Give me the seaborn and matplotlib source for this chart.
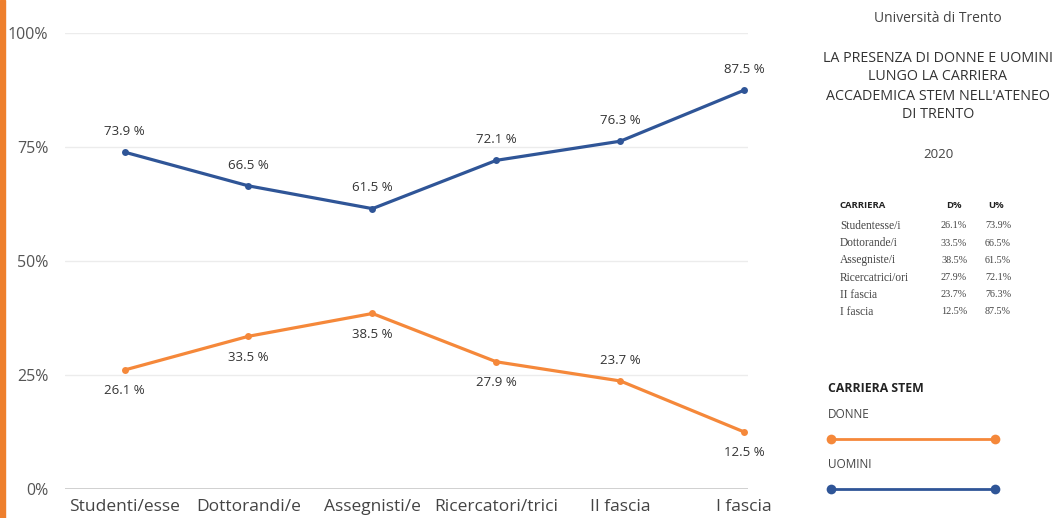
import matplotlib
matplotlib.use("Agg")
import matplotlib.pyplot as plt
from matplotlib.lines import Line2D
from matplotlib.patches import Rectangle
import seaborn as sns
import pandas as pd

# ---- data ----
categories = ["Studenti/esse", "Dottorandi/e", "Assegnisti/e", "Ricercatori/trici", "II fascia", "I fascia"]
donne = [26.1, 33.5, 38.5, 27.9, 23.7, 12.5]
uomini = [73.9, 66.5, 61.5, 72.1, 76.3, 87.5]
yticks = [0, 25, 50, 75, 100]
ytick_labels = ["0%", "25%", "50%", "75%", "100%"]
table_rows = ["Studentesse/i", "Dottorande/i", "Assegniste/i", "Ricercatrici/ori", "II fascia", "I fascia"]
table_d = ["26.1%", "33.5%", "38.5%", "27.9%", "23.7%", "12.5%"]
table_u = ["73.9%", "66.5%", "61.5%", "72.1%", "76.3%", "87.5%"]
# label placement: +1 above, -1 below
donne_pos = [-1, -1, -1, -1, 1, -1]
uomini_pos = [1, 1, 1, 1, 1, 1]

ORANGE = "#f5883a"
BLUE = "#2f5597"
GREY_TXT = "#555555"

sns.set_style("white")
plt.rcParams["font.family"] = ["Open Sans", "DejaVu Sans"]

df = pd.DataFrame({
    "idx": list(range(len(categories))) * 2,
    "val": donne + uomini,
    "serie": ["DONNE"] * len(donne) + ["UOMINI"] * len(uomini),
})

fig = plt.figure(figsize=(10.54, 5.18), dpi=100)
ax = fig.add_axes([0.0617, 0.056, 0.648, 0.880])

sns.lineplot(data=df, x="idx", y="val", hue="serie", palette={"DONNE": ORANGE, "UOMINI": BLUE},
             marker="o", markersize=5, markeredgewidth=0, linewidth=2.3, legend=False, ax=ax,
             zorder=3)

ax.set_xlim(-0.48, 5.03)
ax.set_ylim(0, 100)
ax.set_yticks(yticks)
ax.set_yticklabels(ytick_labels, color=GREY_TXT, fontsize=11.5)
ax.set_xticks(range(len(categories)))
ax.set_xticklabels(categories, color="#444444", fontsize=12.5)
ax.tick_params(axis="both", length=0)
ax.tick_params(axis="y", pad=12)
ax.tick_params(axis="x", pad=7)
ax.set_xlabel("")
ax.set_ylabel("")
for s in ["top", "right", "left", "bottom"]:
    ax.spines[s].set_visible(False)
for y in yticks[1:]:
    ax.axhline(y, color="#ececec", linewidth=1, zorder=1)
ax.axhline(0, color="#c8c8c8", linewidth=1.2, zorder=1)

for i, (d, p) in enumerate(zip(donne, donne_pos)):
    ax.annotate(f"{d} %", (i, d), xytext=(0, 15 * p), textcoords="offset points",
                ha="center", va="center", fontsize=9.5, color="#333333")
for i, (u, p) in enumerate(zip(uomini, uomini_pos)):
    ax.annotate(f"{u} %", (i, u), xytext=(0, 15 * p), textcoords="offset points",
                ha="center", va="center", fontsize=9.5, color="#333333")

# left orange bar
fig.patches.append(Rectangle((0, 0), 5 / 1054, 1, transform=fig.transFigure, color="#ee7f2d", zorder=0))

W, H = 1054, 518
def ft(x, y, s, **kw):
    fig.text(x / W, 1 - y / H, s, **kw)

ft(938, 18, "Università di Trento", ha="center", va="center", fontsize=10, color="#444444")
for k, line in enumerate(["LA PRESENZA DI DONNE E UOMINI", "LUNGO LA CARRIERA",
                          "ACCADEMICA STEM NELL'ATENEO", "DI TRENTO"]):
    ft(938, 58 + k * 19, line, ha="center", va="center", fontsize=10.3, color="#333333")
ft(938, 155, "2020", ha="center", va="center", fontsize=9.5, color="#444444")

ft(840, 205, "CARRIERA", ha="left", va="center", fontsize=6.8, fontweight="bold", color="#222222")
ft(954, 205, "D%", ha="center", va="center", fontsize=6.8, fontweight="bold", color="#222222")
ft(996, 205, "U%", ha="center", va="center", fontsize=6.8, fontweight="bold", color="#222222")
serif = ["Liberation Serif", "DejaVu Serif"]
for k, (r, d, u) in enumerate(zip(table_rows, table_d, table_u)):
    yy = 226 + k * 17.2
    ft(840, yy, r, ha="left", va="center", fontsize=8.3, color="#444444", family=serif)
    ft(954, yy, d, ha="center", va="center", fontsize=7.3, color="#444444", family=serif)
    ft(998, yy, u, ha="center", va="center", fontsize=7.3, color="#444444", family=serif)

ft(828, 388, "CARRIERA STEM", ha="left", va="center", fontsize=8.8, fontweight="bold", color="#222222")
ft(828, 415, "DONNE", ha="left", va="center", fontsize=8.5, color="#444444")
ft(828, 465, "UOMINI", ha="left", va="center", fontsize=8.5, color="#444444")
for yy, c in [(439, ORANGE), (489, BLUE)]:
    fig.lines.append(Line2D([831 / W, 995 / W], [1 - yy / H, 1 - yy / H], transform=fig.transFigure,
                            color=c, linewidth=2, marker="o", markersize=7, markeredgewidth=0))

fig.savefig("out.png", dpi=100)
